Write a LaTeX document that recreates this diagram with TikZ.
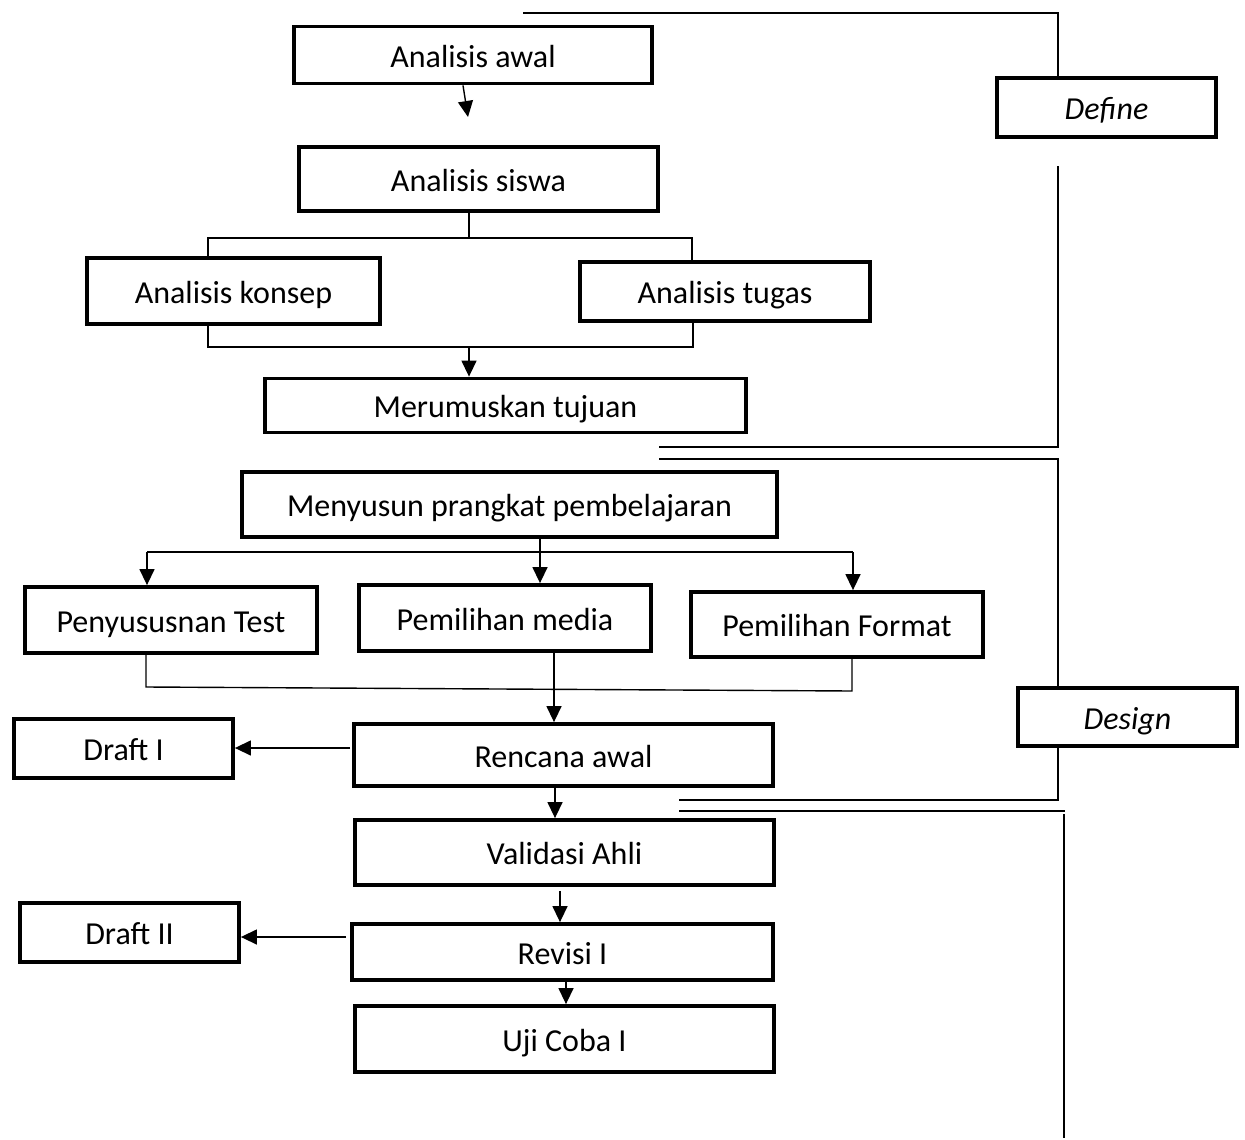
\documentclass[tikz,border=0pt]{standalone}
\usepackage{fontspec}
\setmainfont{Carlito}
\usetikzlibrary{arrows.meta}
\begin{document}
\begin{tikzpicture}[x=1pt,y=-1pt,
  box/.style={draw=black,line width=3.8pt,fill=white,inner sep=0pt,
    font=\fontsize{32}{38}\selectfont,text height=24pt,text depth=0pt},
  phase/.style={box,font=\fontsize{32}{38}\selectfont\itshape},
  conn/.style={line width=1.4pt,black},
  arr/.style={conn,-{Triangle[length=16pt,width=15pt]}}]
\useasboundingbox (0,0) rectangle (1245,1140);
% boxes
\node[box,minimum width=358pt,minimum height=57pt] (awal) at (473,55) {Analisis awal};
\node[box,minimum width=359pt,minimum height=64pt] (siswa) at (478.5,179) {Analisis siswa};
\node[box,minimum width=293pt,minimum height=66pt] (konsep) at (233.5,291) {Analisis konsep};
\node[box,minimum width=290pt,minimum height=59pt] (tugas) at (725,291.5) {Analisis tugas};
\node[box,minimum width=481pt,minimum height=54pt] (tujuan) at (505.5,405.5) {Merumuskan tujuan};
\node[phase,minimum width=219pt,minimum height=59pt] (define) at (1106.5,107.5) {Define};
\node[box,minimum width=535pt,minimum height=65pt] (menyusun) at (509.5,504.5) {Menyusun prangkat pembelajaran};
\node[box,minimum width=292pt,minimum height=66pt] (test) at (171,620) {Penyususnan Test};
\node[box,minimum width=292pt,minimum height=66pt] (media) at (505,618) {Pemilihan media};
\node[box,minimum width=292pt,minimum height=65pt] (format) at (837,624.5) {Pemilihan Format};
\node[phase,minimum width=219pt,minimum height=58pt] (design) at (1127.5,717) {Design};
\node[box,minimum width=219pt,minimum height=59pt] (draft1) at (123.5,748.5) {Draft I};
\node[box,minimum width=419pt,minimum height=62pt] (rencana) at (563.5,755) {Rencana awal};
\node[box,minimum width=419pt,minimum height=65pt] (validasi) at (564.5,852.5) {Validasi Ahli};
\node[box,minimum width=219pt,minimum height=59pt] (draft2) at (129.5,932.5) {Draft II};
\node[box,minimum width=421pt,minimum height=56pt] (revisi) at (562.5,952) {Revisi I};
\node[box,minimum width=419pt,minimum height=66pt] (uji) at (564.5,1039) {Uji Coba I};
% junction coordinates
\coordinate (a1) at (468,117);
\coordinate (j1) at (469,238);
\coordinate (j1L) at (208,238);
\coordinate (j1R) at (692,238);
\coordinate (j2) at (469,347);
\coordinate (j2L) at (208,347);
\coordinate (j2R) at (693,347);
\coordinate (d0) at (523,13);
\coordinate (d1) at (1058,13);
\coordinate (d2) at (1058,166);
\coordinate (d3) at (1058,447);
\coordinate (d4) at (659,447);
\coordinate (e0) at (659,459);
\coordinate (e1) at (1058,459);
\coordinate (e3) at (1058,800);
\coordinate (e4) at (679,800);
\coordinate (f0) at (679,811);
\coordinate (f1) at (1065,811);
\coordinate (f2) at (1064,814);
\coordinate (f3) at (1064,1138);
\coordinate (k0) at (147,552);
\coordinate (k1) at (853,552);
\coordinate (k2) at (540,552);
\coordinate (m0) at (146,687);
\coordinate (m1) at (852,691);
\coordinate (m2) at (554,650);
\coordinate (r1) at (350,748);
\coordinate (r2) at (346,937);
% define section
\draw[arr] ([xshift=-10pt]awal.south) -- (a1);
\draw[conn] (siswa.south -| j1) -- (j1);
\draw[conn] (konsep.north -| j1L) -- (j1L) -- (j1R) -- (tugas.north -| j1R);
\draw[conn] (konsep.south -| j2L) -- (j2L) -- (j2R) -- (tugas.south -| j2R);
\draw[arr] (j2) -- (tujuan.north -| j2);
\draw[conn] (d0) -- (d1) -- (define.north -| d1);
\draw[conn] (d2) -- (d3) -- (d4);
% design section
\draw[conn] (e0) -- (e1) -- (design.north -| e1);
\draw[conn] (design.south -| e1) -- (e3) -- (e4);
\draw[conn] (f0) -- (f1);
\draw[conn] (f2) -- (f3);
\draw[conn] (k0) -- (k1);
\draw[arr] (k0) -- (test.north -| k0);
\draw[arr] (k1) -- (format.north -| k1);
\draw[arr] (menyusun.south -| k2) -- (media.north -| k2);
\draw[conn] (test.south -| m0) -- (m0) -- (m1) -- (format.south -| m1);
\draw[arr] (m2) -- (rencana.north -| m2);
\draw[arr] (r1) -- (draft1.east |- r1);
% develop section
\draw[arr] ([xshift=-8.5pt]rencana.south) -- ([xshift=-9.5pt]validasi.north);
\draw[arr] ([xshift=-4.5pt,yshift=-4pt]validasi.south) -- ([xshift=-2.5pt]revisi.north);
\draw[arr] (r2) -- (draft2.east |- r2);
\draw[arr] ([xshift=3.5pt]revisi.south) -- ([xshift=1.5pt]uji.north);
\end{tikzpicture}
\end{document}
